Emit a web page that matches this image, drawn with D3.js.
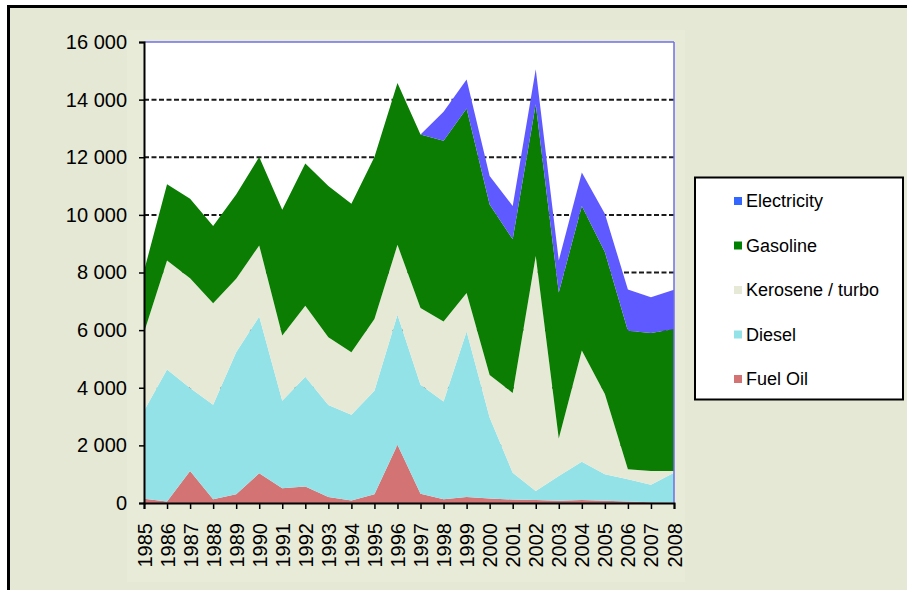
<!DOCTYPE html>
<html>
<head>
<meta charset="utf-8">
<script src="https://cdn.jsdelivr.net/npm/d3@7"></script>
<style>
  html, body { margin: 0; padding: 0; background: #fff; }
  svg { display: block; font-family: "Liberation Sans", Arial, sans-serif; }
</style>
</head>
<body>
<svg id="chart" width="907" height="590"></svg>
<script>
// values (stacked, bottom to top)
var years = [1985,1986,1987,1988,1989,1990,1991,1992,1993,1994,1995,1996,
             1997,1998,1999,2000,2001,2002,2003,2004,2005,2006,2007,2008];
var fuelOil   = [150,50,1110,130,300,1030,510,570,210,90,300,2020,320,130,210,160,120,100,80,100,80,50,30,20];
var diesel    = [3050,4580,2880,3280,4930,5440,3040,3810,3190,2970,3600,4510,3780,3390,5740,2810,930,320,860,1330,920,770,600,1030];
var kerosene  = [2720,3790,3810,3520,2550,2470,2260,2470,2350,2170,2490,2430,2670,2780,1340,1470,2770,8150,1300,3860,2780,350,480,60];
var gasoline  = [2130,2640,2760,2680,2930,3070,4370,4930,5250,5160,5620,5620,6020,6270,6400,5920,5330,5270,5070,5020,4930,4810,4790,4930];
var electricity = [0,0,0,0,0,0,0,0,0,0,0,0,0,1010,1010,990,1160,1210,1110,1160,1330,1430,1240,1360];
var yTicks = [0,2000,4000,6000,8000,10000,12000,14000,16000];

var seriesNames = ["Fuel Oil","Diesel","Kerosene / turbo","Gasoline","Electricity"];
var areaColors  = ["#d37373","#93e2e8","#e6e9d5","#0a7d02","#5f5aff"];
var legendColors = ["#d37373","#93e2e8","#e6e9d5","#008000","#3366ff"];

var rows = years.map(function(y, i){
  return {year: y, "Fuel Oil": fuelOil[i], "Diesel": diesel[i],
          "Kerosene / turbo": kerosene[i], "Gasoline": gasoline[i], "Electricity": electricity[i]};
});

var svg = d3.select("#chart");

// outer frame
svg.append("rect").attr("x",8.5).attr("y",6.5).attr("width",910).attr("height",600)
  .attr("fill","#e5e8d4").attr("stroke","#000").attr("stroke-width",3);
svg.append("rect").attr("x",127).attr("y",30).attr("width",558).attr("height",552)
  .attr("fill","#e8ebd8");

var pLeft = 144, pRight = 674, pTop = 42, pBottom = 503;

var x = d3.scaleLinear().domain([1985, 2008]).range([pLeft, pRight]);
var y = d3.scaleLinear().domain([0, 16000]).range([pBottom, pTop]);

// plot background
svg.append("rect").attr("x",pLeft).attr("y",pTop).attr("width",pRight-pLeft).attr("height",pBottom-pTop)
  .attr("fill","#fff");

// dashed grid
svg.append("g").selectAll("line")
  .data(yTicks.filter(function(d){ return d > 0 && d < 16000; }))
  .enter().append("line")
  .attr("x1", pLeft).attr("x2", pRight)
  .attr("y1", function(d){ return y(d); }).attr("y2", function(d){ return y(d); })
  .attr("stroke","#1a1a1a").attr("stroke-width",2).attr("stroke-dasharray","5,2.5");

var stack = d3.stack().keys(seriesNames);
var layers = stack(rows);

var area = d3.area()
  .x(function(d){ return x(d.data.year); })
  .y0(function(d){ return y(d[0]); })
  .y1(function(d){ return y(d[1]); });

svg.append("g").selectAll("path")
  .data(layers)
  .enter().append("path")
  .attr("d", area)
  .attr("fill", function(d, i){ return areaColors[i]; });

// plot border top / right
svg.append("line").attr("x1",pLeft).attr("x2",pRight).attr("y1",pTop).attr("y2",pTop)
  .attr("stroke","#6f6fe6").attr("stroke-width",1.5);
svg.append("line").attr("x1",pRight).attr("x2",pRight).attr("y1",pTop).attr("y2",pBottom)
  .attr("stroke","#6f6fe6").attr("stroke-width",1.5);

// y axis
var yAxis = d3.axisLeft(y).tickValues(yTicks).tickSize(5).tickPadding(12)
  .tickFormat(function(d){ return d3.format(",")(d).replace(/,/g, " "); });
var gy = svg.append("g").attr("transform","translate(" + pLeft + ",0)").call(yAxis);
gy.select(".domain").attr("stroke","#000").attr("stroke-width",2);
gy.selectAll(".tick line").attr("stroke","#000").attr("stroke-width",1.5);
gy.selectAll("text").attr("font-size",20).attr("fill","#000")
  .attr("font-family","Liberation Sans, Arial, sans-serif");

// x axis
var xAxis = d3.axisBottom(x).tickValues(years).tickSize(6).tickFormat(d3.format("d"));
var gx = svg.append("g").attr("transform","translate(0," + pBottom + ")").call(xAxis);
gx.select(".domain").attr("stroke","#000").attr("stroke-width",2);
gx.selectAll(".tick line").attr("stroke","#000").attr("stroke-width",1.5);
gx.selectAll("text")
  .attr("font-size",20).attr("fill","#000")
  .attr("font-family","Liberation Sans, Arial, sans-serif")
  .attr("transform","rotate(-90)")
  .attr("text-anchor","end")
  .attr("x",-20).attr("y",0).attr("dy","0.35em");

// legend
svg.append("rect").attr("x",695).attr("y",177.5).attr("width",208).attr("height",222)
  .attr("fill","#fff").attr("stroke","#000").attr("stroke-width",2);
var legendOrder = seriesNames.slice().reverse();
var lg = svg.append("g").selectAll("g")
  .data(legendOrder)
  .enter().append("g")
  .attr("transform", function(d, i){ return "translate(734," + (201 + i * 44.5) + ")"; });
lg.append("rect").attr("x",0).attr("y",-4).attr("width",8).attr("height",8)
  .attr("fill", function(d){ return legendColors[seriesNames.indexOf(d)]; });
lg.append("text").attr("x",12).attr("y",0).attr("dy","0.35em")
  .attr("font-size",18).attr("fill","#000")
  .text(function(d){ return d; });
</script>
</body>
</html>
